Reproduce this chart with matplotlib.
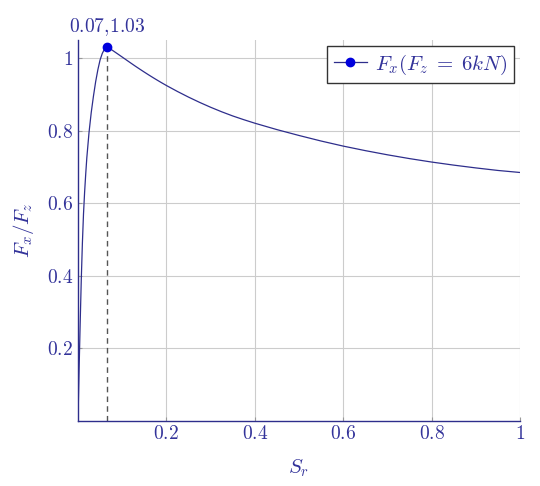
import matplotlib
matplotlib.use("Agg")
import matplotlib.pyplot as plt

plt.rcParams['mathtext.fontset'] = 'cm'
plt.rcParams['font.family'] = ['DejaVu Serif']

# slip ratio and normalised longitudinal force
slip = [0, 0.0025, 0.005, 0.0075, 0.01, 0.0125, 0.015, 0.0175, 0.02, 0.025,
        0.03, 0.035, 0.04, 0.045, 0.05, 0.055, 0.06, 0.066, 0.075, 0.09,
        0.1, 0.11, 0.12, 0.13, 0.14, 0.15, 0.16, 0.17, 0.18, 0.19,
        0.2, 0.225, 0.25, 0.275, 0.3, 0.325, 0.35, 0.375, 0.4, 0.45,
        0.5, 0.55, 0.6, 0.65, 0.7, 0.75, 0.8, 0.85, 0.9, 0.95, 1.0]
force = [0, 0.14, 0.27, 0.39, 0.49, 0.57, 0.63, 0.68, 0.725, 0.795,
         0.85, 0.895, 0.935, 0.968, 0.995, 1.013, 1.025, 1.03, 1.024, 1.0115,
         1.003, 0.9945, 0.986, 0.9776, 0.9695, 0.9615, 0.9537, 0.9461, 0.9387, 0.9315,
         0.9245, 0.908, 0.8925, 0.878, 0.8645, 0.852, 0.8405, 0.8302, 0.8205, 0.8028,
         0.7866, 0.7713, 0.7573, 0.7448, 0.7333, 0.7228, 0.7133, 0.7048, 0.6971, 0.6901, 0.6845]
peak_x = 0.066
peak_y = 1.03
peak_label = r'$0.07,\!1.03$'
ticks = [0.2, 0.4, 0.6, 0.8, 1]
tick_labels = ['$0.2$', '$0.4$', '$0.6$', '$0.8$', '$1$']

navy = '#2e2e8c'
text_col = '#33339a'
dot = '#0000dd'

fig = plt.figure(figsize=(5.4, 4.86), dpi=100)
ax = fig.add_axes([0.1444, 0.1346, 0.8185, 0.7831])

ax.plot(slip, force, color=navy, lw=0.9, zorder=3)
ax.plot([peak_x, peak_x], [0, peak_y], color='#555555', ls=(0, (4, 3)), lw=1.0, zorder=2)
ax.plot([peak_x], [peak_y], 'o', color=dot, markersize=6, zorder=4)
ax.text(peak_x, peak_y + 0.025, peak_label, ha='center', va='bottom',
        fontsize=14, color=text_col)

ax.set_xlim(0, 1)
ax.set_ylim(0, 1.05)
ax.set_xticks(ticks)
ax.set_xticklabels(tick_labels)
ax.set_yticks(ticks)
ax.set_yticklabels(tick_labels)
ax.tick_params(direction='in', length=3, labelsize=14, colors=text_col, color='#999999')
ax.grid(True, color='#cccccc', lw=0.8)
ax.set_axisbelow(True)

for side in ['top', 'right']:
    ax.spines[side].set_visible(False)
for side in ['left', 'bottom']:
    ax.spines[side].set_color(navy)
    ax.spines[side].set_linewidth(1.0)

ax.set_xlabel(r'$S_r$', fontsize=15, color=text_col, labelpad=10)
ax.set_ylabel(r'$F_x/F_z$', fontsize=15, color=text_col, labelpad=8)

# legend entry: line with a dot in the middle
handle, = ax.plot([], [], color=navy, lw=0.9, marker='o', markersize=6,
                  markerfacecolor=dot, markeredgecolor=dot)
leg = ax.legend([handle], [r'$F_x(F_z\;=\;6kN)$'], loc='upper right', fontsize=15,
                fancybox=False, edgecolor='#333333', framealpha=1,
                handlelength=1.6, handletextpad=0.4, borderpad=0.3,
                borderaxespad=0.3, labelcolor=text_col)
leg.get_frame().set_linewidth(1.0)

fig.savefig('out.png', dpi=100)
